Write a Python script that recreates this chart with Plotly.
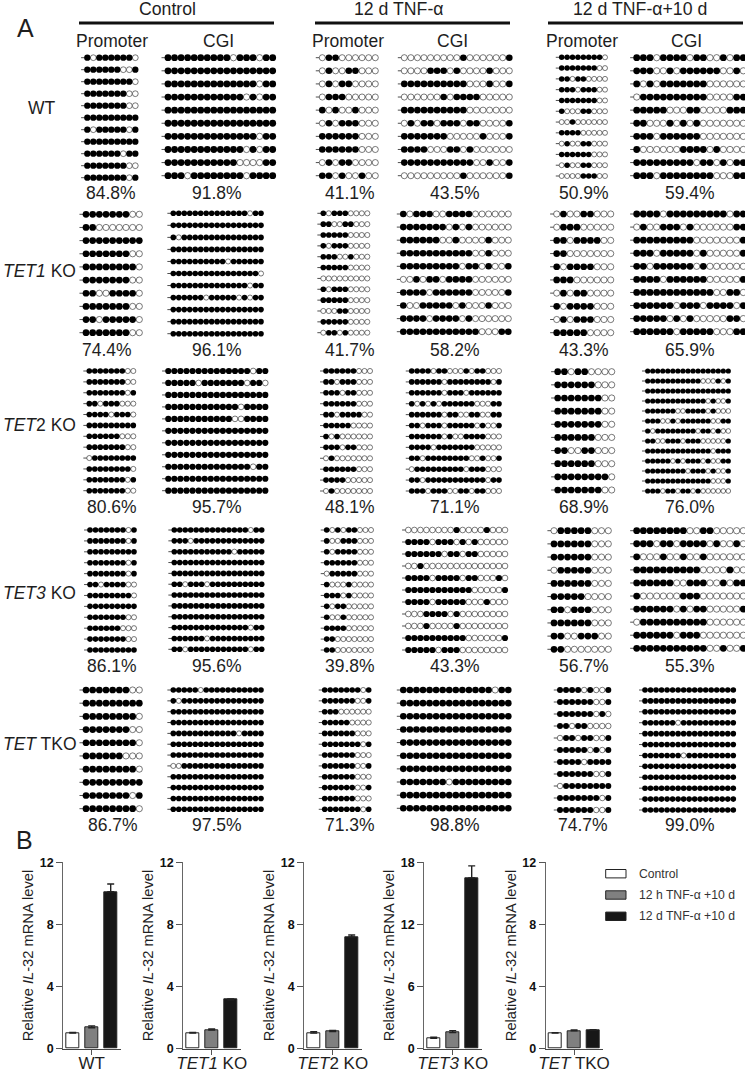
import plotly.graph_objects as go

# ---------- methylation patterns (1 = methylated, 0 = unmethylated), one string per clone ----------
WT_CTRL_PROMOTER = ["101111110","111111001","111111110","111111100","111111100","111111111","101111101","111111111","111111011","111111100","111111101"]
WT_CTRL_CGI = ["11111111110111011","11111111111111111","11111111111111011","11111111111101011","11111111111111111","11111111111111111","11111111111111011","11111111111101011","11111111111000011","11101111111101111"]
WT_TNF_PROMOTER = ["011000000","010011000","010110000","011100000","101001000","010111000","111111000","111111000","010110000","110100100"]
WT_TNF_CGI = ["00000000010000001","00001110100001000","11111111110001001","00000010111100000","11111111110000000","01011011101100001","11111110000010001","11110001101000000","11111111111001001","00000000010000001"]
WT_REC_PROMOTER = ["111111110","111111100","110110000","111011100","111111100","100011000","001000000","111100000","010011000","111111000","010011000","000011100"]
WT_REC_CGI = ["11101111011001011","11100101111110010","10101111111000000","01111111111000011","11111000110000111","11000101010000000","11101111110000000","10000001111010000","11111111101101011","11101111111100011"]

TET1_CTRL_PROMOTER = ["111111100","110000000","111111111","111111100","111111110","111111100","110011110","111111100","110111110","111111100"]
TET1_CTRL_CGI = ["11111111111111011","11111111111111111","10111111111111111","11111111111111111","11111111110111111","11111111111111110","11111111111111011","11111101111101011","11111111111111111","11111111111111111","11111111111111111"]
TET1_TNF_PROMOTER = ["101110000","110011000","111110000","101110000","111001000","111110000","000000000","101110000","111110000","000110000","111110000","011010000"]
TET1_TNF_CGI = ["10111001111000000","11111110101000000","11111100100001000","11111111111001000","11111111101101001","00101101111000000","11110111111000001","10011111010001000","11110111101000000","11111111111100011"]
TET1_REC_PROMOTER = ["010011000","011100000","110111100","110000000","101111000","111000000","010110000","101111000","010111000","111110000"]
TET1_REC_CGI = ["11110111111111011","01001110100000011","11111111100000001","11101111101000001","11011111101000000","11110111111000001","11111111111100110","11111101110111101","11111010100000110","11111101111100011"]

TET2_CTRL_PROMOTER = ["111111100","111111100","111111101","110111000","111101110","111111111","111111000","111111100","011111111","111111110","111111101","111111100"]
TET2_CTRL_CGI = ["11111111111111011","11111011111110110","11111111111111111","11111111111101111","11111111111001111","11111111111111111","11111111111111111","11111111111111111","11111111111111011","11111111111111111","11111111111111111"]
TET2_TNF_PROMOTER = ["111111000","110111000","111011000","111111000","110111100","111110000","101000000","111011000","010000000","111111000","111100000","010000000"]
TET2_TNF_CGI = ["11110110001011000","11111101111111101","11111101110111111","10101011111100011","11111101100110011","11011101111101001","11111101001111000","11110111111100000","11011111111001001","01111111110111000","11011111111111011","11101110011011000"]
TET2_REC_PROMOTER = ["110110000","111111000","111111100","111111100","111111100","111111000","110011000","111111000","111111110","111111100"]
TET2_REC_CGI = ["11111111111111111","11111111111000101","11111111111111111","11111111111101001","11111100111101000","11100101111110011","10111111110110100","11001110111000001","11111111111110111","11111010111010011","11111111011101001","11111111111110001","11101101101000000"]

TET3_CTRL_PROMOTER = ["111111101","111111101","111111111","111111101","111111101","110111100","111111110","111111111","111111100","111111000","111111100","111111111"]
TET3_CTRL_CGI = ["11111111111111011","11101111111111111","11111111111011111","11111111111111111","11111111111111111","11011101111111111","11111111111111111","11111111111111111","11111111111111111","11111111111111011","11111101111111111","11011111111111011"]
TET3_TNF_PROMOTER = ["101011000","100111000","101111000","111111000","011111000","100010000","111010000","101100000","100100000","111100000","110000000","110000000"]
TET3_TNF_CGI = ["00000000100001000","11110111010100000","11111101101100000","00100000000000000","11110111101100010","11111111111000001","11110111110001000","00011110100000000","00010000100000000","11111111110000001","11111011100000000"]
TET3_REC_PROMOTER = ["011111000","111111000","111111000","011111000","111111000","111110000","110111000","111111000","110011100","110000000"]
TET3_REC_CGI = ["11111111001100000","11101101111010010","10001001001000000","11111111110000100","11111100111001011","10000001110000000","11111101011000001","01111111111000000","11111101110000000","11111111111001001"]

TKO_CTRL_PROMOTER = ["111111100","111111111","111111110","111111100","111111110","111111000","111111110","111111111","111111101","111111110"]
TKO_CTRL_CGI = ["11111011111111111","10111111111111111","11111111111111111","11111111111111111","11111111111101111","11111111111111111","11111111111111111","00111111111111111","11111111111111111","11111111111111111","11111111111111111","11111111111111111"]
TKO_TNF_PROMOTER = ["111111101","111111001","111000000","111110000","111111000","111111101","111111000","111111001","111111000","111111001","111111000","111111101"]
TKO_TNF_CGI = ["11111111111111011","11111111111111111","11111111111111111","11111111111111111","11111111111111111","11111111111111111","11111111111111111","11111110111111111","11111111111111111","11111111111111111"]
TKO_REC_PROMOTER = ["111101001","111111001","111111010","110110000","011011001","111110101","111101111","111111001","011111111","111111101","111111001"]
TKO_REC_CGI = ["11111111111111111","11111111111111111","11111111111111111","11111101111111111","11111111111111111","11111111111111111","11111110111111111","11111111111111111","11111111111111111","11111111111111111","11111111111111111","11111111111111111"]

PERCENTS = [["84.8%","91.8%","41.1%","43.5%","50.9%","59.4%"],
            ["74.4%","96.1%","41.7%","58.2%","43.3%","65.9%"],
            ["80.6%","95.7%","48.1%","71.1%","68.9%","76.0%"],
            ["86.1%","95.6%","39.8%","43.3%","56.7%","55.3%"],
            ["86.7%","97.5%","71.3%","98.8%","74.7%","99.0%"]]

# ---------- mRNA bars ----------
CONDITIONS = ["Control", "12 h TNF-α +10 d", "12 d TNF-α +10 d"]
GENOTYPES = ["WT", "<i>TET1</i> KO", "<i>TET</i>2 KO", "<i>TET3</i> KO", "<i>TET</i> TKO"]
Y_TICKS = [[0,4,8,12],[0,4,8,12],[0,4,8,12],[0,6,12,18],[0,4,8,12]]
Y_MAX = [12,12,12,18,12]
MRNA = [[1.0,1.35,10.1],[1.0,1.2,3.15],[1.0,1.1,7.2],[1.0,1.55,16.5],[1.0,1.15,1.2]]
MRNA_ERR = [[0.05,0.12,0.5],[0.05,0.07,0.05],[0.1,0.07,0.12],[0.1,0.2,1.15],[0.03,0.05,0.03]]

W, H = 745, 1073
FONT = "Liberation Sans"
INK = "#1e1e1e"
fig = go.Figure()
layout = {}
shapes, annots = [], []
axis_no = [0]

def fx(p): return p / W
def fy(p): return 1 - p / H

def text(x, y, s, size=17.5, anchor="center", color=INK):
    annots.append(dict(x=fx(x), y=fy(y), xref="paper", yref="paper", text=s, showarrow=False,
                       xanchor=anchor, yanchor="middle", font=dict(family=FONT, size=size, color=color)))

def lollipop(rows, x0, x1, y0, y1, d):
    axis_no[0] += 1
    k = axis_no[0]
    n = len(rows[0]); m = len(rows)
    assert all(len(r) == n for r in rows), rows
    dx = (x1 - x0) / (n - 1); dy = (y1 - y0) / (m - 1)
    pad = 10
    pad_r = min(pad, W - x1)
    layout[f"xaxis{k}"] = dict(domain=[fx(x0 - pad), fx(x1 + pad_r)], range=[-pad / dx, n - 1 + pad_r / dx],
                               visible=False, fixedrange=True, anchor=f"y{k}")
    layout[f"yaxis{k}"] = dict(domain=[fy(y1 + pad), fy(y0 - pad)], range=[m - 1 + pad / dy, -pad / dy],
                               visible=False, fixedrange=True, anchor=f"x{k}")
    lx, ly = [], []
    fxs, fys, oxs, oys = [], [], [], []
    for r, row in enumerate(rows):
        lx += [-0.5 - 3.2 / dx, n - 1, None]; ly += [r, r, None]
        for c, v in enumerate(row):
            (fxs if v == "1" else oxs).append(c)
            (fys if v == "1" else oys).append(r)
    ax = dict(xaxis=f"x{k}", yaxis=f"y{k}", showlegend=False, hoverinfo="skip", cliponaxis=False)
    fig.add_trace(go.Scatter(x=lx, y=ly, mode="lines", line=dict(color="#222", width=0.8), **ax))
    fig.add_trace(go.Scatter(x=oxs, y=oys, mode="markers",
                             marker=dict(size=d - 0.5, color="white", line=dict(color="#222", width=0.6)), **ax))
    fig.add_trace(go.Scatter(x=fxs, y=fys, mode="markers",
                             marker=dict(size=d, color="black", line=dict(width=0)), **ax))

# rows, x-first, x-last, y-first, y-last, diameter
PANELS = [
 (WT_CTRL_PROMOTER, 87.3,135.3,57.7,177.7,6.3), (WT_CTRL_CGI,168,272.7,57.7,175.7,6.8),
 (WT_TNF_PROMOTER,322.3,375.3,57.7,175.7,6.6), (WT_TNF_CGI,404.3,509.3,57.7,175.7,6.6),
 (WT_REC_PROMOTER,561.7,605,57.3,176,5.5), (WT_REC_CGI,636.7,743.3,57.7,175.7,6.8),
 (TET1_CTRL_PROMOTER,86,139.3,214.3,332.7,6.7), (TET1_CTRL_CGI,173.3,261,213.3,333.7,5.6),
 (TET1_TNF_PROMOTER,323.3,367.3,213.3,332.7,5.6), (TET1_TNF_CGI,403.3,508.3,214,331.7,6.6),
 (TET1_REC_PROMOTER,556.7,610.7,214,332.7,6.7), (TET1_REC_CGI,636.7,743.3,214,331.7,6.8),
 (TET2_CTRL_PROMOTER,89.3,133.3,371,490.7,5.6), (TET2_CTRL_CGI,168.3,265.3,371,490.7,6.2),
 (TET2_TNF_PROMOTER,326,370,371,491,5.6), (TET2_TNF_CGI,411.7,499,371,491,5.6),
 (TET2_REC_PROMOTER,557.7,611.7,371.7,490,6.7), (TET2_REC_CGI,647.7,728.3,371,491,5.2),
 (TET3_CTRL_PROMOTER,90,134,530,650,5.6), (TET3_CTRL_CGI,174.3,261.7,530,649.3,5.6),
 (TET3_TNF_PROMOTER,326.7,371,530,650,5.6), (TET3_TNF_CGI,408.3,505,530,650,6.2),
 (TET3_REC_PROMOTER,554,608.3,530.7,649.3,6.7), (TET3_REC_CGI,636.7,743.3,530.7,648.3,6.8),
 (TKO_CTRL_PROMOTER,86,139.3,690,808.7,6.7), (TKO_CTRL_CGI,173.3,261,690,809.3,5.6),
 (TKO_TNF_PROMOTER,324.7,368.7,690,809.3,5.6), (TKO_TNF_CGI,403.3,508.3,690,808.3,6.6),
 (TKO_REC_PROMOTER,560,608.3,690,810,6.0), (TKO_REC_CGI,645,733.3,690,810,5.6),
]
for p in PANELS:
    lollipop(*p)

# percentages
PCT_X = [[110.7,216.7,350,454.7,584,690],[107,216.7,350,454.7,584,690],[112,216.7,350,454.7,584,690],
         [112,216.7,350,454.7,584,690],[113,216.7,350,454.7,583,690]]
PCT_Y = [193, 350, 506.5, 666, 825]
for yy, xs, vals in zip(PCT_Y, PCT_X, PERCENTS):
    for xx, s in zip(xs, vals):
        text(xx, yy, s)

# headers
for xc, a, b, s in [(167,79,274,"Control"),(399,315,510,"12 d TNF-α"),(640,548,743,"12 d TNF-α+10 d")]:
    text(xc, 9, s, size=17.7)
    shapes.append(dict(type="line", xref="paper", yref="paper", x0=fx(a), x1=fx(b), y0=fy(23), y1=fy(23),
                       line=dict(color="#111", width=3)))
for xc, s in [(111.7,"Promoter"),(218,"CGI"),(348,"Promoter"),(452,"CGI"),(582,"Promoter"),(686,"CGI")]:
    text(xc, 40.5, s)
text(41.7, 108, "WT")
text(1, 271, "<i>TET1</i> KO", anchor="left")
text(1, 425, "<i>TET</i>2 KO", anchor="left")
text(1, 592.7, "<i>TET3</i> KO", anchor="left")
text(1, 744, "<i>TET</i> TKO", anchor="left")
text(25, 28, "A", size=25)
text(24, 840, "B", size=25)

# bar charts
BAR_AXIS_X = [63.3, 183.3, 304.3, 424.3, 545.7]
BAR_FILL = ["white", "#808080", "#171717"]
for i in range(5):
    axis_no[0] += 1
    k = axis_no[0]
    left = BAR_AXIS_X[i]
    step = 19.0
    xmin = -9.4 / step; xmax = 2 + 10 / step
    layout[f"xaxis{k}"] = dict(domain=[fx(left), fx(left + (xmax - xmin) * step)], range=[xmin, xmax], anchor=f"y{k}",
                               tickvals=[1], ticktext=[GENOTYPES[i]], ticks="outside", ticklen=5, tickwidth=1.2,
                               tickcolor="#555", showline=True, linecolor="#444", linewidth=1.2, showgrid=False,
                               zeroline=False, ticklabelstandoff=-6,
                               tickfont=dict(family=FONT, size=17, color=INK), fixedrange=True)
    layout[f"yaxis{k}"] = dict(domain=[fy(1048.7), fy(862.3)], range=[0, Y_MAX[i]], anchor=f"x{k}",
                               tickvals=Y_TICKS[i], ticks="outside", ticklen=6, tickwidth=1.2, tickcolor="#555",
                               showline=True, linecolor="#666", linewidth=1.2, showgrid=False, zeroline=False,
                               tickfont=dict(family=FONT, size=12.5, color="#111", weight="bold"), fixedrange=True,
                               title=dict(text="Relative <i>IL</i>-32 mRNA level", standoff=2,
                                          font=dict(family=FONT, size=14.7, color=INK)))
    fig.add_trace(go.Bar(x=[0, 1, 2], y=MRNA[i], width=0.67, xaxis=f"x{k}", yaxis=f"y{k}", showlegend=False,
                         hoverinfo="skip", marker=dict(color=BAR_FILL, line=dict(color="#222", width=1)),
                         error_y=dict(type="data", symmetric=False, array=MRNA_ERR[i], arrayminus=[0, 0, 0],
                                      color="#222", thickness=1.4, width=3.5)))

# legend
for yy, fill, s in zip([873.7, 895, 916.3], BAR_FILL, CONDITIONS):
    shapes.append(dict(type="rect", xref="paper", yref="paper", x0=fx(605.7), x1=fx(626), y0=fy(yy + 4.2), y1=fy(yy - 4.2),
                       fillcolor=fill, line=dict(color="#222", width=1)))
    text(636.7, yy, s, size=12.2, anchor="left", color="#333")

fig.update_layout(width=W, height=H, margin=dict(l=0, r=0, t=0, b=0, autoexpand=False), paper_bgcolor="white",
                  plot_bgcolor="white", shapes=shapes, annotations=annots, bargap=0, font=dict(family=FONT), **layout)
fig.write_html("out.html", config=dict(displayModeBar=False),
               post_script="document.body.style.margin='0';")
